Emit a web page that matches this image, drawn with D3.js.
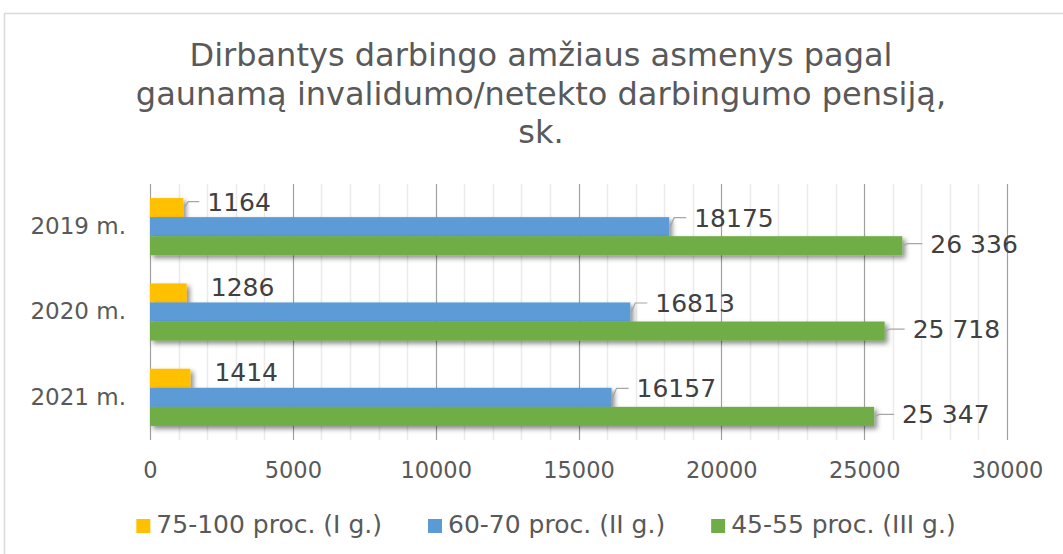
<!DOCTYPE html>
<html>
<head>
<meta charset="utf-8">
<script src="https://cdn.jsdelivr.net/npm/d3@7"></script>
<style>
  body { margin: 0; background: #fff; }
  text { font-family: "DejaVu Sans", Verdana, sans-serif; }
</style>
</head>
<body>
<div id="chart"></div>
<script>
// chart values
const titleLines = ["Dirbantys darbingo amžiaus asmenys pagal", "gaunamą invalidumo/netekto darbingumo pensiją,", "sk."]
const categories = ["2019 m.", "2020 m.", "2021 m."]
const seriesNames = ["75-100 proc. (I g.)", "60-70 proc. (II g.)", "45-55 proc. (III g.)"]
const groupI = [1164, 1286, 1414]
const groupII = [18175, 16813, 16157]
const groupIII = [26336, 25718, 25347]
const xTicks = [0, 5000, 10000, 15000, 20000, 25000, 30000]

const colors = ["#FFC000", "#5B9BD5", "#70AD47"]
const allSeries = [groupI, groupII, groupIII]

const width = 1063
const height = 554
const plot = { left: 150, right: 1007, top: 184, bottom: 440 }

const svg = d3.select('#chart')
  .append('svg')
  .attr('width', width)
  .attr('height', height)

// drop shadow like the office chart bars
const defs = svg.append('defs')
defs.append('filter')
  .attr('id', 'shadow')
  .attr('x', '-10%').attr('y', '-30%')
  .attr('width', '130%').attr('height', '190%')
  .append('feDropShadow')
  .attr('dx', 3).attr('dy', 3)
  .attr('stdDeviation', 2.5)
  .attr('flood-color', '#000')
  .attr('flood-opacity', 0.45)

// outer frame
svg.append('rect')
  .attr('x', 4.5).attr('y', 13.5)
  .attr('width', width + 10).attr('height', height + 10)
  .attr('fill', 'none')
  .attr('stroke', '#d9d9d9')
  .attr('stroke-width', 1.5)

// title
svg.append('text')
  .attr('text-anchor', 'middle')
  .attr('fill', '#595959')
  .attr('font-size', 32)
  .selectAll('tspan')
  .data(titleLines)
  .join('tspan')
  .attr('x', 541)
  .attr('y', (d, i) => 66 + i * 38.5)
  .text(d => d)

const xScale = d3.scaleLinear()
  .domain([0, 30000])
  .range([plot.left, plot.right])

const yScale = d3.scaleBand()
  .domain(categories)
  .range([plot.top, plot.bottom])

const inner = d3.scaleBand()
  .domain(d3.range(allSeries.length))
  .range([yScale.bandwidth() * 0.165, yScale.bandwidth() * 0.835])

// minor gridlines every 1000
svg.append('g')
  .selectAll('line')
  .data(d3.range(1000, 30000, 1000).filter(v => v % 5000 !== 0))
  .join('line')
  .attr('x1', d => Math.round(xScale(d)) + 0.5)
  .attr('x2', d => Math.round(xScale(d)) + 0.5)
  .attr('y1', plot.top)
  .attr('y2', plot.bottom)
  .attr('stroke', '#ebebeb')
  .attr('stroke-width', 1.5)

// major gridlines every 5000
svg.append('g')
  .selectAll('line')
  .data(xTicks)
  .join('line')
  .attr('x1', d => Math.round(xScale(d)) + 0.5)
  .attr('x2', d => Math.round(xScale(d)) + 0.5)
  .attr('y1', plot.top)
  .attr('y2', plot.bottom)
  .attr('stroke', '#a0a0a0')
  .attr('stroke-width', 1.2)

// x axis labels
const xAxis = d3.axisBottom(xScale)
  .tickValues(xTicks)
  .tickFormat(d3.format('d'))
  .tickSize(0)
  .tickPadding(22)
const gx = svg.append('g')
  .attr('transform', `translate(0 ${plot.bottom})`)
  .call(xAxis)
gx.select('.domain').remove()
gx.selectAll('text')
  .attr('font-family', '"DejaVu Sans", Verdana, sans-serif')
  .attr('font-size', 22.5)
  .attr('fill', '#595959')

// y axis labels
const yAxis = d3.axisLeft(yScale).tickSize(0).tickPadding(24)
const gy = svg.append('g')
  .attr('transform', `translate(${plot.left} 0)`)
  .call(yAxis)
gy.select('.domain').remove()
gy.selectAll('text')
  .attr('font-family', '"DejaVu Sans", Verdana, sans-serif')
  .attr('font-size', 23)
  .attr('fill', '#595959')

// flatten bars
const bars = []
allSeries.forEach((values, s) => {
  values.forEach((v, i) => bars.push({ s, cat: categories[i], value: v }))
})

svg.append('g')
  .selectAll('rect')
  .data(bars)
  .join('rect')
  .attr('x', xScale(0))
  .attr('y', d => yScale(d.cat) + inner(d.s))
  .attr('width', d => xScale(d.value) - xScale(0))
  .attr('height', inner.bandwidth())
  .attr('fill', d => colors[d.s])
  .attr('filter', 'url(#shadow)')

// data labels, the biggest group uses a space as thousands separator
const spaced = d3.formatLocale({ decimal: ',', thousands: '\u00a0', grouping: [3] }).format(',d')
const plain = d3.format('d')
const labelDx = [24, 25, 28]
const labelDy = [-6, -9, -2]

const labels = svg.append('g')
bars.forEach(d => {
  const x0 = xScale(d.value)
  const yc = yScale(d.cat) + inner(d.s) + inner.bandwidth() / 2
  const lx = x0 + labelDx[d.s]
  const ly = yc + labelDy[d.s]
  if (d.s > 0 || d.cat === categories[0]) {
    labels.append('path')
      .attr('d', `M${x0 + 1},${yc} L${x0 + 5},${ly} L${lx - 8},${ly}`)
      .attr('fill', 'none')
      .attr('stroke', '#a6a6a6')
      .attr('stroke-width', 1.2)
  }
  labels.append('text')
    .attr('x', lx)
    .attr('y', ly)
    .attr('dy', '0.36em')
    .attr('font-size', 25)
    .attr('fill', '#404040')
    .text(d.s === 2 ? spaced(d.value) : plain(d.value))
})

// legend
const legend = svg.append('g')
const items = legend.selectAll('g')
  .data(seriesNames)
  .join('g')
items.append('rect')
  .attr('width', 14).attr('height', 14)
  .attr('y', -14)
  .attr('fill', (d, i) => colors[i])
items.append('text')
  .attr('x', 20)
  .attr('font-size', 25)
  .attr('fill', '#595959')
  .text(d => d)

let offset = 0
const gap = 46
items.each(function() {
  const w = this.getBBox().width
  d3.select(this).attr('data-x', offset)
  offset += w + gap
})
const total = offset - gap
const startX = 546 - total / 2
items.attr('transform', function() {
  return `translate(${startX + +this.getAttribute('data-x')} 533)`
})
</script>
</body>
</html>
